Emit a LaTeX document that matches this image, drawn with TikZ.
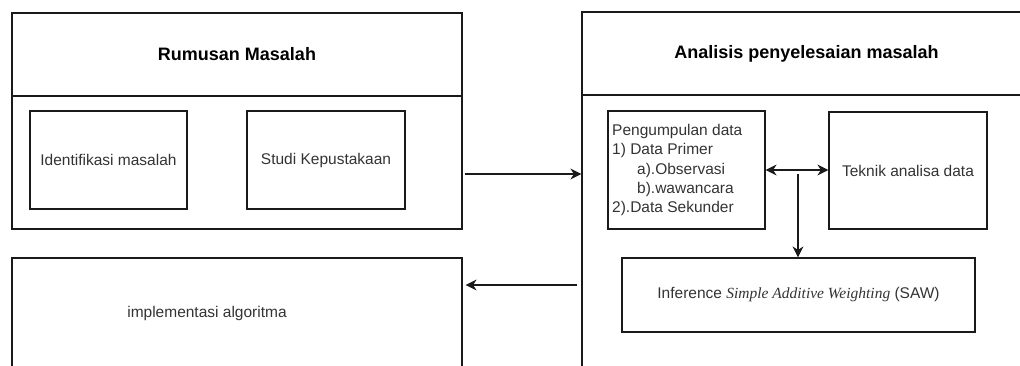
\documentclass[tikz,border=0pt]{standalone}
\usepackage{fontspec}
\setmainfont{Liberation Sans}
\newfontfamily\serifit{Liberation Serif}
\usetikzlibrary{arrows.meta}
\definecolor{ln}{HTML}{1A1A1A}
\definecolor{tx}{HTML}{333333}
\begin{document}
\begin{tikzpicture}[x=1pt,y=-1pt,
  box/.style={draw=ln,line width=1.2pt,rectangle,inner sep=0pt,text=tx,
    font=\fontsize{15.5}{19.3}\selectfont},
  head/.style={box,font=\fontsize{18}{22}\selectfont\bfseries,text=black},
  arr/.style={draw=ln,line width=1.3pt,-{Stealth[length=11pt,width=11pt,inset=3.5pt]}},
  arrb/.style={draw=ln,line width=1.3pt,{Stealth[length=11pt,width=11pt,inset=3.5pt]}-{Stealth[length=11pt,width=11pt,inset=3.5pt]}},
  plain/.style={text=tx,inner sep=0pt,font=\fontsize{15.5}{19.3}\selectfont}]
\useasboundingbox (0,0) rectangle (1020,365);
\begin{scope}
\clip (0,0) rectangle (1020,365);
% left group
\node[head,minimum width=450pt,minimum height=83pt] (lhead) at (237,54.5) {Rumusan Masalah};
\node[box,minimum width=450pt,minimum height=133pt] (lbody) at (237,162.5) {};
\node[box,minimum width=157pt,minimum height=98pt] (ident) at (108.5,160) {Identifikasi masalah};
\node[box,minimum width=158pt,minimum height=98pt] (studi) at (326,160) {Studi Kepustakaan};
% bottom left
\node[box,minimum width=450pt,minimum height=150pt] (impl) at (237,333) {};
\node[plain] (impltext) at (207,313) {implementasi algoritma};
% right group
\node[head,minimum width=449pt,minimum height=83pt] (rhead) at (806.5,53.5) {Analisis penyelesaian masalah};
\node[box,minimum width=449pt,minimum height=310pt] (rbody) at (806.5,250) {};
\node[box,minimum width=157pt,minimum height=118pt] (peng) at (686.5,170) {};
\node[plain,anchor=west,align=left] (pengtext) at (612,170) {Pengumpulan data\\1) Data Primer\\\hspace*{25pt}a).Observasi\\\hspace*{25pt}b).wawancara\\2).Data Sekunder};
\node[box,minimum width=158pt,minimum height=117pt] (tek) at (908,170.5) {Teknik analisa data};
\node[box,minimum width=353pt,minimum height=74pt] (saw) at (798.5,295) {Inference {\serifit\itshape Simple Additive Weighting} (SAW)};
\end{scope}
% connectors
\draw[arr] ([xshift=2pt]lbody.east |- 0,174) -- (rbody.west |- 0,174);
\draw[arr] ([xshift=-4pt]rbody.west |- 0,285) -- ([xshift=3pt]impl.east |- 0,285);
\draw[arrb] (peng.east) -- (tek.west |- peng.east);
\coordinate (j) at (798,174);
\draw[arr] (j) -- (j |- saw.north);
\end{tikzpicture}
\end{document}
